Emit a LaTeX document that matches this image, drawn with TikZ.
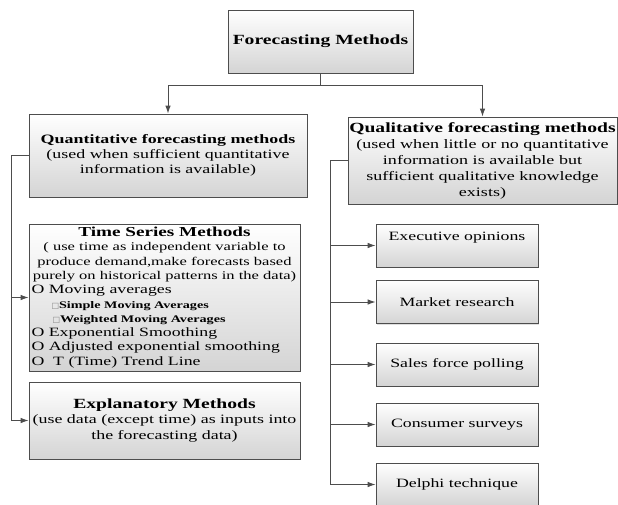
\documentclass[tikz,border=0pt]{standalone}
\usepackage{fontspec}
\setmainfont[FakeStretch = 1.4]{Liberation Serif}
\newfontfamily\symbfont{DejaVu Sans}
\usetikzlibrary{arrows.meta, shadows}

\definecolor{linegray}{HTML}{4D4D4D}
\definecolor{boxgray}{HTML}{D4D4D4}

\begin{document}
\begin{tikzpicture}[x = 1pt, y = -1pt,
    box/.style = {draw = linegray, line width = 0.8pt, top color = white, bottom color = boxgray,
        drop shadow = {shadow xshift = 1.2pt, shadow yshift = -1.2pt, opacity = 0.25},
        inner sep = 2pt, align = center, font = \fontsize{12.8}{15}\selectfont},
    item/.style = {box, minimum width = 162pt, minimum height = 43pt, font = \fontsize{12.7}{15}\selectfont},
    link/.style = {draw = linegray, line width = 0.9pt},
    arr/.style = {link, -{Latex[length = 8pt, width = 5.5pt]}}]
    \useasboundingbox (0,0) rectangle (618,505);

    % top of the tree
    \node[box, minimum width = 185pt, minimum height = 63pt, font = \bfseries\fontsize{14}{16}\selectfont] (fm) at (320.5,41.5) {Forecasting Methods};

    % the two families
    \node[box, minimum width = 278pt, minimum height = 83pt] (quant) at (168,155.5)
        {\textbf{Quantitative forecasting methods}\\(used when sufficient quantitative\\information is available)};
    \node[box, minimum width = 269pt, minimum height = 87pt, inner xsep = 1pt, font = \fontsize{12.9}{16}\selectfont] (qual) at (482.5,160.5)
        {{\fontsize{14}{16}\selectfont\bfseries Qualitative forecasting methods}\\(used when little or no quantitative\\information is available but\\sufficient qualitative knowledge\\exists)};

    % quantitative side
    \node[box, minimum width = 271pt, minimum height = 147pt, text width = 266pt, align = none, font = \fontsize{11.8}{14.3}\selectfont] (ts) at (164.5,297.5)
        {\centering{\fontsize{13.7}{14.3}\selectfont\bfseries Time Series Methods}\\
        ( use time as independent variable to\\
        produce demand,make forecasts based\\
        purely on historical patterns in the data)\par
        \raggedright\fontsize{12.7}{14.3}\selectfont
        O Moving averages\\
        \hspace*{20pt}{\symbfont\fontsize{8}{14.3}\selectfont\color{gray}□}{\fontsize{10.1}{14.3}\selectfont\bfseries Simple Moving Averages}\\
        \hspace*{21pt}{\symbfont\fontsize{8}{14.3}\selectfont\color{gray}□}{\fontsize{10.1}{14.3}\selectfont\bfseries Weighted Moving Averages}\\
        O Exponential Smoothing\\
        O Adjusted exponential smoothing\\
        O\ \ T (Time) Trend Line\par};
    \node[box, minimum width = 271pt, minimum height = 77pt, font = \fontsize{12.8}{15.5}\selectfont] (expl) at (164.5,420.5)
        {{\fontsize{14}{15.5}\selectfont\bfseries Explanatory Methods}\\(use data (except time) as inputs into\\the forecasting data)};

    % qualitative side
    \node[item, text depth = 18pt] (exec) at (457,245.5) {Executive opinions};
    \node[item] (market) at (457,302) {Market research};
    \node[item] (sales) at (457,364.5) {Sales force polling};
    \node[item] (consumer) at (457,424.5) {Consumer surveys};
    \node[item] (delphi) at (457,484.5) {Delphi technique};

    % connectors
    \draw[arr] (fm.south) -- ++(0,12) -| (quant.north);
    \draw[arr] (fm.south) -- ++(0,12) -| (qual.north);
    \draw[arr] (quant.west) -- ++(-17,0) |- (expl.west);
    \draw[arr] (quant.west) ++(-17,0) |- (ts.west);
    \draw[arr] (qual.west) -- ++(-17,0) |- (delphi.west);
    \draw[arr] (qual.west) ++(-17,0) |- (exec.west);
    \draw[arr] (qual.west) ++(-17,0) |- (market.west);
    \draw[arr] (qual.west) ++(-17,0) |- (sales.west);
    \draw[arr] (qual.west) ++(-17,0) |- (consumer.west);
\end{tikzpicture}
\end{document}
